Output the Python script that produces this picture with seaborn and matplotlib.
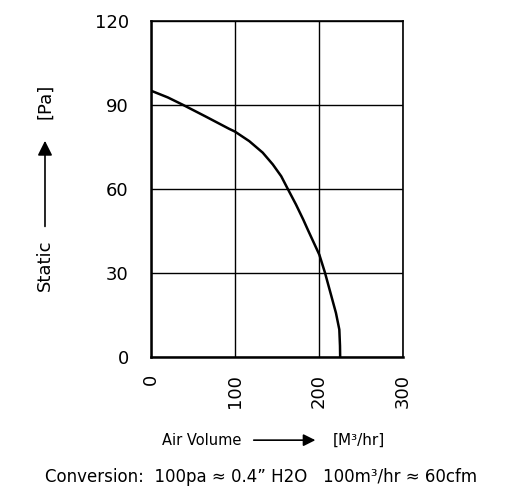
import numpy as np
import pandas as pd
import matplotlib
matplotlib.use("Agg")
import matplotlib.pyplot as plt
import seaborn as sns

# Fan curve
air_volume = [0, 20, 37.7, 65, 93, 100, 117, 133, 145, 155, 162.6, 172.6,
              181.3, 187, 200.4, 207, 214.3, 220.2, 224.2, 225, 225.2]
static_pa = [95, 92.6, 90, 85.8, 81.4, 80.4, 77, 72.9, 68.7, 64.5, 60.1, 54.4,
             49, 45.2, 36.5, 30.2, 22.2, 15.7, 9.8, 4, 0]

x_ticks = [0, 100, 200, 300]
y_ticks = [0, 30, 60, 90, 120]

df = pd.DataFrame({"Air Volume": air_volume, "Static": static_pa})

sns.set_style("white")
plt.rcParams["font.family"] = ["DejaVu Sans"]
plt.rcParams["text.color"] = "black"
plt.rcParams["xtick.color"] = "black"
plt.rcParams["ytick.color"] = "black"

fig = plt.figure(figsize=(5.25, 4.94), dpi=100)
ax = fig.add_axes([0.2876, 0.2773, 0.48, 0.681])

sns.lineplot(
    data=df,
    x="Air Volume",
    y="Static",
    color="black",
    linewidth=1.8,
    sort=False,
    ax=ax
)

ax.set_xlim(0, 300)
ax.set_ylim(0, 120)
ax.set_xticks(x_ticks)
ax.set_yticks(y_ticks)
ax.set_xticklabels([str(t) for t in x_ticks], rotation=90, fontsize=13)
ax.set_yticklabels([str(t) for t in y_ticks], fontsize=13)
ax.tick_params(axis="x", length=0, pad=12, colors="black")
ax.tick_params(axis="y", length=0, pad=16, colors="black")
ax.grid(True, color="black", linewidth=1.0)
ax.set_axisbelow(True)
for s in ax.spines.values():
    s.set_color("black")
    s.set_linewidth(1.2)
ax.spines["left"].set_linewidth(1.8)
ax.spines["bottom"].set_linewidth(1.8)
ax.set_xlabel("")
ax.set_ylabel("")

# Y axis label with arrow
fig.text(0.0857, 0.4636, "Static", rotation=90, ha="center", va="center", fontsize=13, color="black")
fig.text(0.0857, 0.7955, "[Pa]", rotation=90, ha="center", va="center", fontsize=13, color="black")
ax.annotate("", xy=(0.0857, 0.7206), xytext=(0.0857, 0.536),
            xycoords="figure fraction", textcoords="figure fraction",
            arrowprops=dict(arrowstyle="-|>", color="black", lw=1.2, mutation_scale=22))

# X axis label with arrow
fig.text(0.385, 0.109, "Air Volume", ha="center", va="center", fontsize=10.5, color="black")
fig.text(0.684, 0.109, "[M\u00b3/hr]", ha="center", va="center", fontsize=11, color="black")
ax.annotate("", xy=(0.606, 0.109), xytext=(0.478, 0.109),
            xycoords="figure fraction", textcoords="figure fraction",
            arrowprops=dict(arrowstyle="-|>", color="black", lw=1.2, mutation_scale=18))

fig.text(0.497, 0.0344,
         "Conversion:  100pa \u2248 0.4\u201d H2O   100m\u00b3/hr \u2248 60cfm",
         ha="center", va="center", fontsize=12, color="black")

plt.savefig("out.png", dpi=100)
